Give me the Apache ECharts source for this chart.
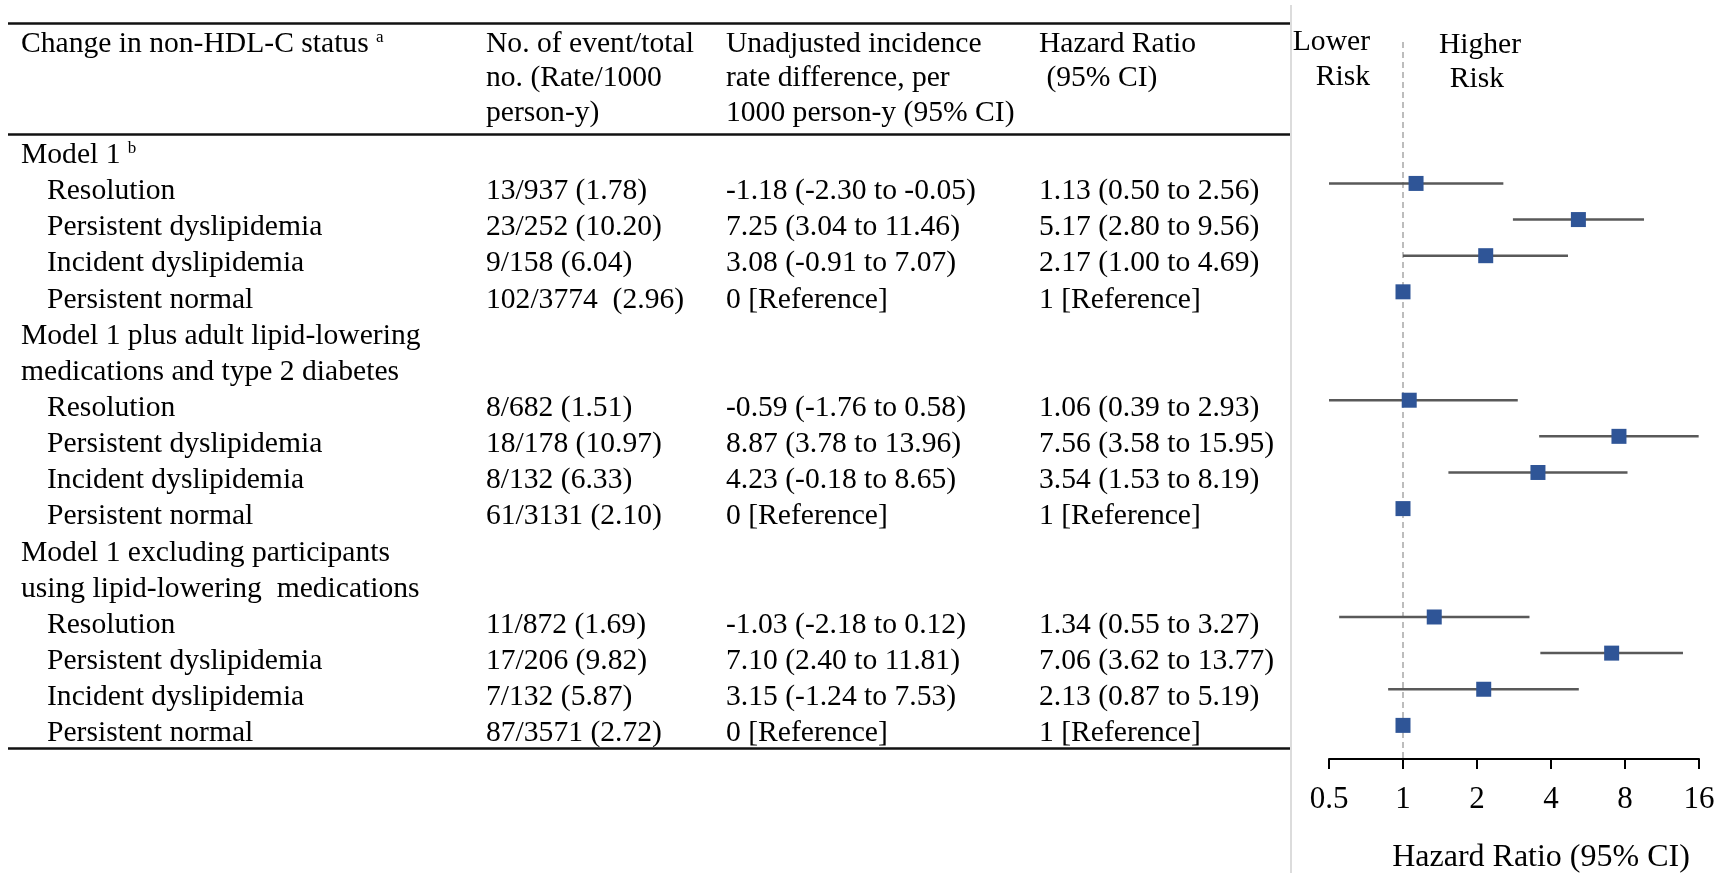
<!DOCTYPE html>
<html>
<head>
<meta charset="utf-8">
<script src="https://cdn.jsdelivr.net/npm/echarts@6/dist/echarts.min.js"></script>
<style>
  html, body { margin: 0; padding: 0; background: #fff; }
  #chart { width: 1728px; height: 873px; }
</style>
</head>
<body>
<div id="chart"></div>
<script>
// --- data ---
const groupLines = [
  ['Model 1'],
  ['Model 1 plus adult lipid-lowering', 'medications and type 2 diabetes'],
  ['Model 1 excluding participants', 'using lipid-lowering  medications']
]
const groupNotes = ['b', '', '']
const statuses = ['Resolution', 'Persistent dyslipidemia', 'Incident dyslipidemia', 'Persistent normal']

const events = [
  '13/937 (1.78)', '23/252 (10.20)', '9/158 (6.04)', '102/3774  (2.96)',
  '8/682 (1.51)', '18/178 (10.97)', '8/132 (6.33)', '61/3131 (2.10)',
  '11/872 (1.69)', '17/206 (9.82)', '7/132 (5.87)', '87/3571 (2.72)'
]
const rateDiff = [
  '-1.18 (-2.30 to -0.05)', '7.25 (3.04 to 11.46)', '3.08 (-0.91 to 7.07)', '0 [Reference]',
  '-0.59 (-1.76 to 0.58)', '8.87 (3.78 to 13.96)', '4.23 (-0.18 to 8.65)', '0 [Reference]',
  '-1.03 (-2.18 to 0.12)', '7.10 (2.40 to 11.81)', '3.15 (-1.24 to 7.53)', '0 [Reference]'
]
const hrText = [
  '1.13 (0.50 to 2.56)', '5.17 (2.80 to 9.56)', '2.17 (1.00 to 4.69)', '1 [Reference]',
  '1.06 (0.39 to 2.93)', '7.56 (3.58 to 15.95)', '3.54 (1.53 to 8.19)', '1 [Reference]',
  '1.34 (0.55 to 3.27)', '7.06 (3.62 to 13.77)', '2.13 (0.87 to 5.19)', '1 [Reference]'
]
const hr = [1.13, 5.17, 2.17, 1, 1.06, 7.56, 3.54, 1, 1.34, 7.06, 2.13, 1]
const hrLow = [0.50, 2.80, 1.00, null, 0.39, 3.58, 1.53, null, 0.55, 3.62, 0.87, null]
const hrHigh = [2.56, 9.56, 4.69, null, 2.93, 15.95, 8.19, null, 3.27, 13.77, 5.19, null]
const hrTicks = ['0.5', '1', '2', '4', '8', '16']

const headers = [
  ['Change in non-HDL-C status ', 'No. of event/total', 'Unadjusted incidence', 'Hazard Ratio'],
  ['', 'no. (Rate/1000', 'rate difference, per', ' (95% CI)'],
  ['', 'person-y)', '1000 person-y (95% CI)', '']
]
const headerNote = 'a'

// --- table rows (one per text line) ---
const rows = []
groupLines.forEach((lines, g) => {
  lines.forEach((t, j) => rows.push({ group: true, text: t, note: j === 0 ? groupNotes[g] : '' }))
  statuses.forEach((s, j) => rows.push({ group: false, text: s, k: g * 4 + j }))
})
const itemRow = []
rows.forEach((r, i) => { if (!r.group) itemRow[r.k] = i })

// --- layout ---
const FONT = '"Liberation Serif", "Times New Roman", serif'
const colX = [21, 486, 726, 1039]
const indent = 26
const rowStep = 36.13
const row0Y = 147.3
const gridTop = 42
const gridBottom = 759
const yMin = -(row0Y - gridTop) / rowStep
const yMax = yMin + (gridBottom - gridTop) / rowStep
const textShift = 8

const chart = echarts.init(document.getElementById('chart'))

const ciData = []
hr.forEach((v, i) => { if (hrLow[i] != null) ciData.push([hrLow[i], hrHigh[i], itemRow[i]]) })

chart.setOption({
  animation: false,
  backgroundColor: '#fff',
  grid: {
    left: 1329, width: 370, top: gridTop, height: gridBottom - gridTop,
    outerBoundsMode: 'none'
  },
  xAxis: {
    type: 'log',
    logBase: 2,
    min: 0.5,
    max: 16,
    position: 'bottom',
    splitLine: { show: false },
    minorTick: { show: false },
    axisLine: { show: true, onZero: false, lineStyle: { color: '#000', width: 2 } },
    axisTick: { show: true, length: 10, lineStyle: { color: '#000', width: 2 } },
    axisLabel: {
      margin: 25, fontSize: 31, fontFamily: FONT, color: '#000',
      formatter: (v, i) => hrTicks[i] ?? String(v)
    },
    name: 'Hazard Ratio (95% CI)',
    nameLocation: 'middle',
    nameGap: 99,
    nameTextStyle: { fontSize: 32, fontFamily: FONT, color: '#000', verticalAlign: 'middle', padding: [0, 0, 0, 54] }
  },
  yAxis: { type: 'value', inverse: true, min: yMin, max: yMax, show: false },
  series: [
    {
      type: 'custom',
      z: 2,
      encode: { x: [0, 1], y: 2 },
      data: ciData,
      renderItem: (params, api) => {
        const p1 = api.coord([api.value(0), api.value(2)])
        const p2 = api.coord([api.value(1), api.value(2)])
        const cs = params.coordSys
        return {
          type: 'line',
          shape: {
            x1: Math.max(p1[0], cs.x), y1: p1[1],
            x2: Math.min(p2[0], cs.x + cs.width), y2: p2[1]
          },
          style: { stroke: '#595959', lineWidth: 2.5 }
        }
      },
      markLine: {
        z: 1,
        silent: true,
        symbol: 'none',
        label: { show: false },
        lineStyle: { color: '#bdbdbd', type: [6, 4], width: 2 },
        data: [{ xAxis: 1 }]
      }
    },
    {
      type: 'scatter',
      z: 10,
      symbol: 'rect',
      symbolSize: 15,
      itemStyle: { color: '#2F5597', opacity: 1 },
      data: hr.map((v, i) => [v, itemRow[i]])
    }
  ]
})

// --- table text and rules ---
const txt = (text, x, y, extra) => ({
  type: 'text',
  silent: true,
  style: Object.assign({
    text, x, y, fill: '#000',
    fontSize: 29.6, fontFamily: FONT,
    align: 'left', verticalAlign: 'middle'
  }, extra || {})
})
const supText = (main, note, x, y) => txt('{m|' + main + '}{s|' + note + '}', x, y, {
  rich: {
    m: { fontSize: 29.6, fontFamily: FONT, lineHeight: 30, fill: '#000' },
    s: { fontSize: 17, fontFamily: FONT, verticalAlign: 'top', fill: '#000' }
  }
})
const rule = (y, w) => ({
  type: 'line', silent: true,
  shape: { x1: 8, y1: y, x2: 1290, y2: y },
  style: { stroke: '#111', lineWidth: w }
})

const g = []
g.push({ type: 'line', silent: true, shape: { x1: 1291, y1: 5, x2: 1291, y2: 873 }, style: { stroke: '#d0d0d0', lineWidth: 1.5 } })
g.push(rule(23.5, 2.5), rule(134.5, 2.5), rule(748.5, 2.5))

const headerY = [44, 78, 113]
headers.forEach((line, li) => {
  line.forEach((t, c) => {
    if (!t) return
    if (li === 0 && c === 0) g.push(supText(t, headerNote, colX[0], headerY[li]))
    else g.push(txt(t, colX[c], headerY[li]))
  })
})

rows.forEach((r, i) => {
  const y = chart.convertToPixel({ yAxisIndex: 0 }, i) + textShift
  if (r.group) {
    if (r.note) g.push(supText(r.text + ' ', r.note, colX[0], y))
    else g.push(txt(r.text, colX[0], y))
  } else {
    g.push(txt(r.text, colX[0] + indent, y))
    g.push(txt(events[r.k], colX[1], y))
    g.push(txt(rateDiff[r.k], colX[2], y))
    g.push(txt(hrText[r.k], colX[3], y))
  }
})

g.push(txt('Lower', 1370, 42, { align: 'right' }))
g.push(txt('Risk', 1370, 77, { align: 'right' }))
g.push(txt('Higher', 1480, 45, { align: 'center' }))
g.push(txt('Risk', 1477, 79, { align: 'center' }))

chart.setOption({ graphic: g })
</script>
</body>
</html>
